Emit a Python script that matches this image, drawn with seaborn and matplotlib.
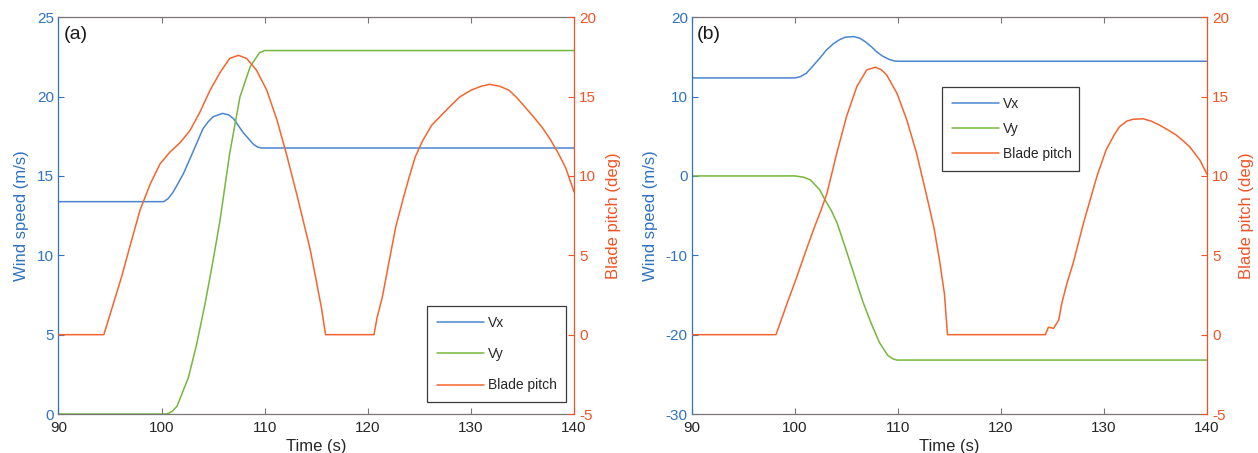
import matplotlib
matplotlib.use("Agg")
import matplotlib.pyplot as plt
import seaborn as sns

# ---- panel (a) ----
t_vx_a = [90, 100.2, 100.6, 101.1, 102.1, 103.1, 104.0, 104.5, 105.0, 105.9, 106.5, 107.0,
          107.9, 108.9, 109.3, 109.7, 140]
vx_a = [13.38, 13.38, 13.55, 13.96, 15.12, 16.6, 17.96, 18.4, 18.73, 18.94, 18.85, 18.59,
        17.74, 17.0, 16.82, 16.76, 16.76]

t_vy_a = [90, 100.5, 101.0, 101.5, 102.6, 103.4, 104.2, 105.0, 105.66, 106.6, 107.6, 108.6,
          109.5, 110.0, 140]
vy_a = [0, 0, 0.15, 0.5, 2.3, 4.4, 6.9, 9.7, 12.18, 16.4, 19.98, 21.9,
        22.77, 22.9, 22.9]

t_pitch_a = [90, 94.4, 95.2, 96.1, 96.9, 97.9, 98.9, 99.85, 100.8, 101.8, 102.75, 103.7,
             104.7, 105.7, 106.6, 107.45, 108.25, 109.2, 110.2, 111.2, 112.1, 113.1,
             113.8, 114.4, 115.0, 115.5, 115.9, 120.6, 120.9, 121.4, 122.0, 122.7, 123.4,
             124.0, 124.6, 125.3, 126.2, 127.25, 128.0, 128.9, 130.0, 131.0, 131.8, 132.8,
             133.7, 134.5, 135.3, 136.1, 136.9, 137.7, 138.5, 139.2, 140]
pitch_a = [0, 0, 1.7, 3.6, 5.5, 7.83, 9.5, 10.76, 11.5, 12.1, 12.86, 14.0,
           15.4, 16.55, 17.4, 17.6, 17.4, 16.67, 15.4, 13.5, 11.4, 8.87,
           7.0, 5.4, 3.4, 1.7, 0, 0, 1.08, 2.34, 4.4, 6.76, 8.5,
           9.9, 11.2, 12.2, 13.2, 13.9, 14.4, 14.97, 15.4, 15.65, 15.77, 15.65,
           15.4, 14.9, 14.3, 13.7, 13.07, 12.3, 11.4, 10.5, 9.0]

# ---- panel (b) ----
t_vx_b = [90, 100.0, 100.5, 101.1, 101.7, 102.4, 103.0, 103.7, 104.3, 104.85, 105.7, 106.3,
          106.8, 107.4, 107.9, 108.5, 109.1, 109.6, 110.0, 140]
vx_b = [12.35, 12.35, 12.5, 12.94, 13.8, 14.83, 15.8, 16.64, 17.15, 17.48, 17.56, 17.35,
        16.93, 16.3, 15.67, 15.1, 14.7, 14.5, 14.45, 14.45]

t_vy_b = [90, 100.0, 100.8, 101.5, 102.4, 102.9, 103.5, 104.1, 104.9, 105.8, 106.6, 107.4,
          108.2, 109.0, 109.5, 109.9, 140]
vy_b = [0, 0, -0.15, -0.5, -1.76, -3.0, -4.3, -5.98, -9.1, -12.7, -15.9, -18.6,
        -21.0, -22.6, -23.05, -23.2, -23.2]

t_pitch_b = [90, 98.15, 99.3, 100.1, 100.9, 101.9, 102.5, 103.1, 104.05, 105.0, 106.0,
             106.96, 107.8, 108.4, 108.9, 109.9, 110.85, 111.8, 112.8, 113.5, 114.0,
             114.5, 114.8, 124.3, 124.6, 125.1, 125.6, 125.9, 126.4, 127.0, 128.0,
             128.7, 129.3, 130.2, 131.0, 131.5, 132.2, 132.8, 133.8, 134.6, 135.4,
             136.2, 137.0, 137.7, 138.3, 139.3, 140]
pitch_b = [0, 0, 2.1, 3.5, 5.0, 6.8, 7.8, 8.9, 11.43, 13.74, 15.63,
           16.68, 16.85, 16.68, 16.36, 15.2, 13.53, 11.43, 8.7, 6.7, 4.8,
           2.6, 0, 0, 0.47, 0.4, 0.93, 1.98, 3.24, 4.5, 7.02,
           8.6, 9.96, 11.64, 12.6, 13.1, 13.45, 13.57, 13.6, 13.45, 13.2,
           12.9, 12.58, 12.2, 11.85, 11.0, 10.1]

x_ticks = [90, 100, 110, 120, 130, 140]
pitch_ticks = [-5, 0, 5, 10, 15, 20]
series_names = ["Vx", "Vy", "Blade pitch"]

C_VX = "#4a86d0"
C_VY = "#74b83e"
C_PITCH = "#f4652f"
C_LEFT = "#2f72c2"
C_RIGHT = "#f05426"
C_FRAME = "#7b7575"
C_TEXT = "#262626"

sns.set_theme(style="white")
plt.rcParams["font.family"] = ["Liberation Sans", "DejaVu Sans"]
plt.rcParams["font.size"] = 10
plt.rcParams["axes.unicode_minus"] = False

fig = plt.figure(figsize=(12.58, 4.53), dpi=100)
ax_a = fig.add_axes([0.0465, 0.086, 0.4098, 0.876])
ax_b = fig.add_axes([0.5501, 0.086, 0.4094, 0.876])


def draw_panel(ax, tag, vx, vy, pitch, ylim_l, yticks_l, legend_box, label_spacing):
    (tvx, yvx), (tvy, yvy), (tp, yp) = vx, vy, pitch
    sns.lineplot(x=tvx, y=yvx, ax=ax, color=C_VX, lw=1.1, label=series_names[0], legend=False)
    sns.lineplot(x=tvy, y=yvy, ax=ax, color=C_VY, lw=1.1, label=series_names[1], legend=False)
    ax2 = ax.twinx()
    sns.lineplot(x=tp, y=yp, ax=ax2, color=C_PITCH, lw=1.1, label=series_names[2], legend=False)

    ax.set_xlim(90, 140)
    ax.set_xticks(x_ticks)
    ax.set_ylim(*ylim_l)
    ax.set_yticks(yticks_l)
    ax2.set_ylim(-5, 20)
    ax2.set_yticks(pitch_ticks)

    ax.set_xlabel("Time (s)", color=C_TEXT, fontsize=12, labelpad=3)
    ax.set_ylabel("Wind speed (m/s)", color=C_LEFT, fontsize=12, labelpad=6)
    ax2.set_ylabel("Blade pitch (deg)", color=C_RIGHT, fontsize=12, labelpad=7)

    ax.tick_params(axis="x", direction="in", top=True, bottom=True, length=4,
                   width=0.8, color=C_FRAME, labelcolor=C_TEXT, labelsize=11, pad=5)
    ax.tick_params(axis="y", direction="in", left=True, right=False, length=4,
                   width=0.8, color=C_LEFT, labelcolor=C_LEFT, labelsize=11, pad=3)
    ax2.tick_params(axis="y", direction="in", right=True, left=False, length=4,
                    width=0.8, color=C_RIGHT, labelcolor=C_RIGHT, labelsize=11, pad=3.5)

    for sp in ("top", "bottom"):
        ax.spines[sp].set_color(C_FRAME)
        ax.spines[sp].set_linewidth(0.9)
    ax.spines["left"].set_color(C_LEFT)
    ax.spines["left"].set_linewidth(0.9)
    ax.spines["right"].set_visible(False)
    ax2.spines["right"].set_color(C_RIGHT)
    ax2.spines["right"].set_linewidth(0.9)
    for sp in ("left", "top", "bottom"):
        ax2.spines[sp].set_visible(False)
    ax.grid(False)
    ax2.grid(False)

    ax.text(0.01, 0.978, tag, transform=ax.transAxes, ha="left", va="top",
            fontsize=14, color="#1a1a1a")

    h1, l1 = ax.get_legend_handles_labels()
    h2, l2 = ax2.get_legend_handles_labels()
    leg = ax2.legend(h1 + h2, l1 + l2, loc="lower left", bbox_to_anchor=legend_box,
                     mode="expand", frameon=True, fancybox=False, framealpha=1,
                     edgecolor="#3a3a3a", fontsize=10, handlelength=3.4,
                     labelspacing=label_spacing, borderpad=0.7, handletextpad=0.3,
                     borderaxespad=0)
    leg.get_frame().set_linewidth(0.9)
    for txt in leg.get_texts():
        txt.set_color(C_TEXT)
    return ax2


draw_panel(ax_a, "(a)", (t_vx_a, vx_a), (t_vy_a, vy_a), (t_pitch_a, pitch_a),
           (0, 25), [0, 5, 10, 15, 20, 25], (0.715, 0.03, 0.27, 0.247), 1.25)
draw_panel(ax_b, "(b)", (t_vx_b, vx_b), (t_vy_b, vy_b), (t_pitch_b, pitch_b),
           (-30, 20), [-30, -20, -10, 0, 10, 20], (0.485, 0.613, 0.266, 0.214), 0.8)

fig.savefig("out.png", dpi=100)
